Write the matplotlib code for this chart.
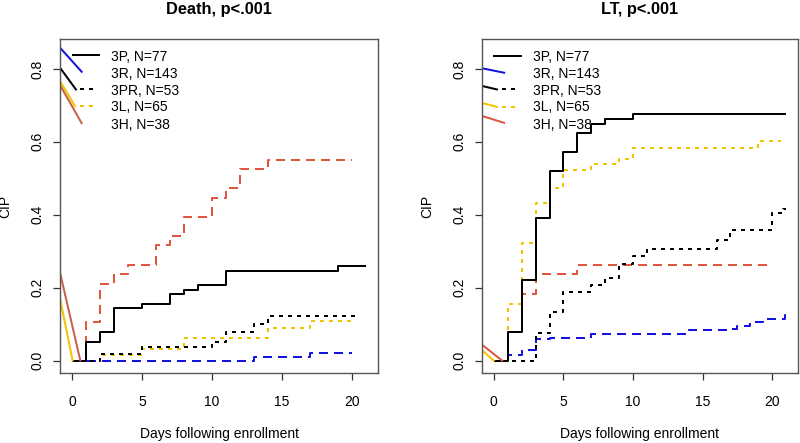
import matplotlib
matplotlib.use("Agg")
import matplotlib.pyplot as plt

plt.rcParams['font.family'] = ['Liberation Sans', 'DejaVu Sans']
plt.rcParams['lines.scale_dashes'] = False

# ---------------- data ----------------
groups = ["3P, N=77", "3R, N=143", "3PR, N=53", "3L, N=65", "3H, N=38"]

# Death panel (day, CIP) step functions
death_3P_x = [0, 1, 2, 3, 5, 7, 8, 9, 11, 19, 21]
death_3P_y = [0, 0.052, 0.078, 0.143, 0.156, 0.182, 0.195, 0.208, 0.247, 0.260, 0.260]
death_3R_x = [0, 13, 17, 20]
death_3R_y = [0, 0.010, 0.022, 0.022]
death_3PR_x = [0, 2, 5, 10, 11, 13, 14, 20.6]
death_3PR_y = [0, 0.019, 0.038, 0.052, 0.079, 0.100, 0.123, 0.123]
death_3L_x = [0, 2, 5, 8, 14, 17, 20, 20.6]
death_3L_y = [0, 0.016, 0.031, 0.061, 0.090, 0.108, 0.123, 0.123]
death_3H_x = [0, 1, 2, 3, 4, 6, 7, 8, 10, 11, 12, 14, 20]
death_3H_y = [0, 0.105, 0.211, 0.237, 0.263, 0.316, 0.342, 0.395, 0.447, 0.474, 0.526, 0.551, 0.551]

# LT panel
lt_3P_x = [0, 1, 2, 3, 4, 5, 6, 7, 8, 10, 21]
lt_3P_y = [0, 0.078, 0.221, 0.390, 0.519, 0.571, 0.623, 0.649, 0.662, 0.675, 0.675]
lt_3R_x = [0, 1, 2, 3, 4, 7, 14, 16.9, 17.5, 18.4, 19.3, 20.9, 21]
lt_3R_y = [0, 0.014, 0.028, 0.058, 0.063, 0.072, 0.083, 0.087, 0.096, 0.105, 0.115, 0.124, 0.124]
lt_3PR_x = [0, 3, 4, 5, 7, 8, 9, 10, 11, 16, 17, 20, 20.8, 21]
lt_3PR_y = [0, 0.076, 0.132, 0.189, 0.207, 0.227, 0.266, 0.286, 0.307, 0.332, 0.357, 0.405, 0.417, 0.417]
lt_3L_x = [0, 1, 2, 3, 4, 5, 7, 9, 10, 19, 20.6]
lt_3L_y = [0, 0.154, 0.323, 0.431, 0.474, 0.522, 0.540, 0.554, 0.583, 0.602, 0.602]
lt_3H_x = [0, 1, 2, 3, 6, 20]
lt_3H_y = [0, 0.079, 0.184, 0.237, 0.263, 0.263]

# stray slanted segments near the origin (as in the reference)
death_red_stub_x = [-0.9, 0.6]
death_red_stub_y = [0.25, 0.0]
death_yel_stub_x = [-0.9, 0.05]
death_yel_stub_y = [0.18, 0.0]
lt_red_stub_x = [-0.9, 0.6]
lt_red_stub_y = [0.045, 0.0]
lt_yel_stub_x = [-0.9, 0.0]
lt_yel_stub_y = [0.03, 0.0]

xticks = [0, 5, 10, 15, 20]
yticks = [0.0, 0.2, 0.4, 0.6, 0.8]

# ---------------- styles ----------------
BLACK = "#000000"
BLUE = "#1414E0"
YEL = "#F2C400"
RED = "#E0563E"
BROWN = "#C8604C"
PX = 0.72  # points per pixel at dpi 100
LW = 2 * PX
dashed = (0, (9 * PX, 6 * PX))
dotted = (0, (4 * PX, 5 * PX))
FS = 10

styles = [(BLACK, "-"), (BLUE, dashed), (BLACK, dotted), (YEL, dotted), (RED, dashed)]

fig = plt.figure(figsize=(8, 4.43), dpi=100)
W, H = 800, 443


def make_ax(x0, x1, y0, y1):
    return fig.add_axes([x0 / W, 1 - y1 / H, (x1 - x0) / W, (y1 - y0) / H])


axL = make_ax(60, 378, 39, 373)
axR = make_ax(482, 798, 39, 373)

panels = [
    (axL, "Death, p<.001",
     [(death_3P_x, death_3P_y), (death_3R_x, death_3R_y), (death_3PR_x, death_3PR_y),
      (death_3L_x, death_3L_y), (death_3H_x, death_3H_y)],
     [(death_red_stub_x, death_red_stub_y, BROWN), (death_yel_stub_x, death_yel_stub_y, YEL)],
     # legend stubs (axes fraction)
     [((0.002, 0.068), (0.972, 0.902), BLUE),
      ((0.000, 0.050), (0.914, 0.849), BLACK),
      ((0.000, 0.047), (0.874, 0.799), YEL),
      ((0.000, 0.068), (0.862, 0.748), BROWN)],
     [(0.040, 0.124, 0.951, BLACK, "-"), (0.063, 0.115, 0.849, BLACK, dotted),
      (0.063, 0.110, 0.799, YEL, dotted)]),
    (axR, "LT, p<.001",
     [(lt_3P_x, lt_3P_y), (lt_3R_x, lt_3R_y), (lt_3PR_x, lt_3PR_y),
      (lt_3L_x, lt_3L_y), (lt_3H_x, lt_3H_y)],
     [(lt_red_stub_x, lt_red_stub_y, RED), (lt_yel_stub_x, lt_yel_stub_y, YEL)],
     [((0.002, 0.070), (0.912, 0.899), BLUE),
      ((0.002, 0.047), (0.859, 0.849), BLACK),
      ((0.002, 0.047), (0.808, 0.797), YEL),
      ((0.002, 0.070), (0.769, 0.749), RED)],
     [(0.039, 0.123, 0.949, BLACK, "-"), (0.062, 0.104, 0.849, BLACK, dotted),
      (0.062, 0.104, 0.797, YEL, dotted)]),
]

legend_rows = [0.945, 0.895, 0.845, 0.795, 0.743]

for ax, title, series, stubs, leg_slants, leg_lines in panels:
    order = [3, 4, 1, 2, 0]
    for i in order:
        xs, ys = series[i]
        col, ls = styles[i]
        ax.plot(xs, ys, drawstyle="steps-post", color=col, linestyle=ls, lw=LW,
                solid_capstyle="butt", dash_capstyle="butt")
    for xs, ys, col in stubs:
        ax.plot(xs, ys, color=col, lw=LW)
    for (x0, x1), (y0, y1), col in leg_slants:
        ax.plot([x0, x1], [y0, y1], color=col, lw=LW, transform=ax.transAxes)
    for x0, x1, y, col, ls in leg_lines:
        ax.plot([x0, x1], [y, y], color=col, lw=LW, linestyle=ls,
                transform=ax.transAxes, dash_capstyle="butt")
    for lab, yy in zip(groups, legend_rows):
        ax.text(0.16, yy, lab, transform=ax.transAxes, fontsize=FS,
                ha="left", va="center")

    ax.set_xlim(-0.85, 21.85)
    ax.set_ylim(-0.034, 0.882)
    ax.set_xticks(xticks)
    ax.set_yticks(yticks)
    ax.set_xticklabels([str(t) for t in xticks])
    ax.set_yticklabels([f"{t:.1f}" for t in yticks], rotation=90, va="center")
    ax.tick_params(axis="both", direction="out", length=5, width=0.9,
                   colors="#333333", labelcolor="black", labelsize=FS)
    ax.tick_params(axis="x", pad=11)
    ax.tick_params(axis="y", pad=6)
    for s in ax.spines.values():
        s.set_color("#555555")
        s.set_linewidth(1.0)
    ax.set_xlabel("Days following enrollment", fontsize=FS, labelpad=13)
    ax.set_ylabel("CIP", fontsize=FS, labelpad=13)
    ax.set_title(title, fontsize=11.8, fontweight="bold", pad=18)

fig.savefig("out.png", dpi=100)
